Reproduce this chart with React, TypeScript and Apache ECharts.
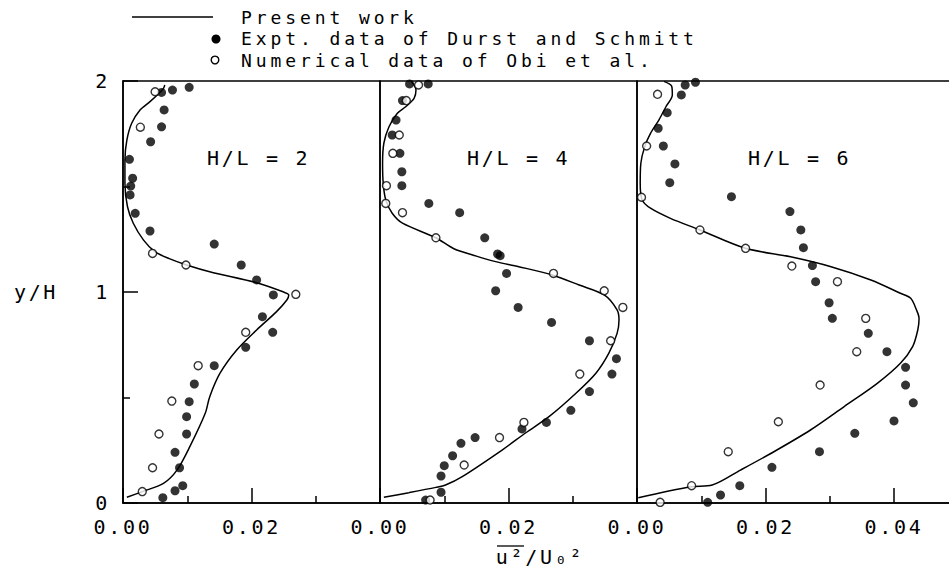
import React, { useEffect, useRef } from "react";
import * as echarts from "echarts";

// ---------- data (x = u'^2/U0^2, y = y/H) ----------
const panelLabels = ["H/L = 2", "H/L = 4", "H/L = 6"];
const legendLabels = [
  "Present work",
  "Expt. data of Durst and Schmitt",
  "Numerical data of Obi et al.",
];
const yTickLabels = ["0", "1", "2"];
const xTickLabels = ["0.00", "0.02", "0.04"];

const hl2Present = [
  [0.0006, 0.027], [0.003, 0.054], [0.0063, 0.093], [0.0084, 0.156], [0.0104, 0.267],
  [0.0128, 0.425], [0.0135, 0.504], [0.0151, 0.615], [0.0177, 0.725], [0.0208, 0.82],
  [0.0239, 0.907], [0.0255, 0.962], [0.0258, 0.986], [0.0249, 1.001], [0.0208, 1.044],
  [0.0135, 1.096], [0.0099, 1.128], [0.0072, 1.158], [0.005, 1.19], [0.0032, 1.246],
  [0.0016, 1.326], [0.0007, 1.404], [0.0003, 1.515], [0.0003, 1.626], [0.0006, 1.72],
  [0.00135, 1.8], [0.00265, 1.863], [0.0042, 1.902], [0.0055, 1.938], [0.0063, 1.965],
  [0.0065, 1.981],
];
const hl2Expt = [
  [0.0103, 1.97], [0.0077, 1.957], [0.006, 1.946], [0.0064, 1.863], [0.006, 1.783],
  [0.0043, 1.712], [0.001, 1.629], [0.0015, 1.539], [0.0012, 1.502], [0.0011, 1.46],
  [0.0019, 1.373], [0.0042, 1.289], [0.0142, 1.227], [0.0184, 1.128], [0.0208, 1.057],
  [0.0234, 0.986], [0.0217, 0.883], [0.0233, 0.809], [0.0191, 0.738], [0.0142, 0.651],
  [0.0111, 0.564], [0.0103, 0.48], [0.0099, 0.409], [0.0099, 0.327], [0.0081, 0.24],
  [0.0088, 0.167], [0.0093, 0.082], [0.0081, 0.058], [0.0062, 0.025],
];
const hl2Obi = [
  [0.005, 1.949], [0.0027, 1.781], [0.0046, 1.183], [0.0098, 1.128], [0.0269, 0.989],
  [0.0191, 0.809], [0.0117, 0.651], [0.0076, 0.483], [0.0056, 0.327], [0.0046, 0.167],
  [0.003, 0.054],
];

const hl4Present = [
  [0.0006, 0.027], [0.0045, 0.049], [0.0087, 0.074], [0.0102, 0.085], [0.0128, 0.125],
  [0.019, 0.251], [0.0227, 0.333], [0.0263, 0.409], [0.0305, 0.52], [0.0336, 0.615],
  [0.0356, 0.709], [0.0369, 0.804], [0.0372, 0.867], [0.0369, 0.915], [0.0349, 0.986],
  [0.031, 1.033], [0.0268, 1.081], [0.0216, 1.12], [0.018, 1.144], [0.015, 1.17],
  [0.0115, 1.205], [0.0087, 1.257], [0.0035, 1.326], [0.0019, 1.373], [0.0009, 1.436],
  [0.0005, 1.515], [0.0004, 1.61], [0.0006, 1.705], [0.0014, 1.783], [0.0027, 1.847],
  [0.004, 1.878], [0.0053, 1.918], [0.0056, 1.957], [0.0049, 1.997],
];
const hl4Expt = [
  [0.0075, 1.986], [0.0046, 1.986], [0.0035, 1.907], [0.0025, 1.815], [0.0019, 1.744],
  [0.0031, 1.657], [0.0034, 1.57], [0.0034, 1.504], [0.0076, 1.42], [0.0124, 1.376],
  [0.0163, 1.257], [0.0187, 1.172], [0.0183, 1.18], [0.0197, 1.088], [0.018, 1.006],
  [0.0215, 0.927], [0.0267, 0.856], [0.0326, 0.769], [0.0368, 0.684], [0.0361, 0.611],
  [0.0326, 0.528], [0.0297, 0.439], [0.0259, 0.382], [0.0221, 0.351], [0.0148, 0.31],
  [0.0126, 0.283], [0.0113, 0.224], [0.01, 0.177], [0.0095, 0.128], [0.0095, 0.051],
  [0.0071, 0.014],
];
const hl4Obi = [
  [0.006, 1.981], [0.0041, 1.907], [0.003, 1.744], [0.002, 1.657], [0.001, 1.504],
  [0.0009, 1.42], [0.0035, 1.376], [0.0087, 1.257], [0.027, 1.088], [0.0349, 1.006],
  [0.0378, 0.927], [0.0359, 0.769], [0.0311, 0.611], [0.0224, 0.382], [0.0186, 0.31],
  [0.0131, 0.18], [0.0078, 0.014],
];

const hl6Present = [
  [0.0002, 0.025], [0.0084, 0.077], [0.0117, 0.085], [0.0161, 0.156], [0.0213, 0.243],
  [0.027, 0.346], [0.0322, 0.456], [0.0374, 0.567], [0.041, 0.662], [0.0429, 0.741],
  [0.0437, 0.82], [0.0439, 0.875], [0.0435, 0.915], [0.0426, 0.97], [0.041, 0.994],
  [0.0364, 1.057], [0.0302, 1.12], [0.0239, 1.167], [0.0169, 1.207], [0.0098, 1.294],
  [0.0052, 1.349], [0.0021, 1.397], [0.0008, 1.436], [0.0005, 1.515], [0.0006, 1.61],
  [0.0012, 1.689], [0.0021, 1.752], [0.0034, 1.815], [0.0045, 1.878], [0.0055, 1.934],
  [0.0054, 1.975], [0.0042, 1.998],
];
const hl6Expt = [
  [0.0091, 1.994], [0.0075, 1.981], [0.0069, 1.934], [0.0047, 1.85], [0.0033, 1.776],
  [0.0041, 1.692], [0.0059, 1.607], [0.0051, 1.518], [0.0147, 1.452], [0.0238, 1.381],
  [0.0255, 1.294], [0.0259, 1.21], [0.0273, 1.125], [0.0278, 1.049], [0.0299, 0.949],
  [0.0304, 0.875], [0.036, 0.804], [0.0389, 0.717], [0.0418, 0.643], [0.0418, 0.559],
  [0.043, 0.475], [0.04, 0.389], [0.0339, 0.33], [0.0284, 0.243], [0.021, 0.169],
  [0.016, 0.082], [0.013, 0.038], [0.011, 0.003],
];
const hl6Obi = [
  [0.0032, 1.937], [0.0015, 1.692], [0.0007, 1.449], [0.0098, 1.294], [0.0169, 1.207],
  [0.0241, 1.123], [0.0312, 1.049], [0.0356, 0.875], [0.0342, 0.717], [0.0285, 0.559],
  [0.022, 0.385], [0.0142, 0.243], [0.0085, 0.082], [0.0036, 0.003],
];

const presentSets = [hl2Present, hl4Present, hl6Present];
const exptSets = [hl2Expt, hl4Expt, hl6Expt];
const obiSets = [hl2Obi, hl4Obi, hl6Obi];
const xMaxes = [0.04, 0.04, 0.06];

// ---------- layout / style ----------
const FONT_FAMILY = "DejaVu Sans Mono";
const FONT_SIZE = 20;
const LEGEND_FONT_SIZE = 18;
const GRID_TOP = 81;
const GRID_HEIGHT = 422;
const PX_PER_UNIT = 257 / 0.04;
const gridLefts = [123, 380, 637];
const labelPos = [
  [207, 158],
  [467, 158],
  [748, 158],
];
const legendRowsY = [17, 38.5, 60];
// the chart canvas is wider than the visible frame; the third panel runs past the right edge
const CANVAS_W = 1100;
const VIEW_W = 949;
const VIEW_H = 577;

const black = "#000";

export default function App() {
  const ref = useRef<HTMLDivElement>(null);

  useEffect(() => {
    document.body.style.margin = "0";
    if (!ref.current) return;
    const chart = echarts.init(ref.current, undefined, { renderer: "svg" });

    const axisLineStyle = { color: black, width: 1.5 };
    const labelStyle = {
      color: black,
      fontFamily: FONT_FAMILY,
      fontSize: FONT_SIZE,
    };

    const grids = gridLefts.map((left, i) => ({
      left,
      top: GRID_TOP,
      width: xMaxes[i] * PX_PER_UNIT,
      height: GRID_HEIGHT,
      show: true,
      borderColor: black,
      borderWidth: 1.5,
      backgroundColor: "transparent",
      containLabel: false,
    }));

    const xAxes = gridLefts.map((_, i) => ({
      type: "value",
      gridIndex: i,
      min: 0,
      max: xMaxes[i],
      interval: 0.02,
      axisLine: { show: true, onZero: false, lineStyle: axisLineStyle },
      axisTick: { show: true, inside: true, length: 15, lineStyle: axisLineStyle },
      minorTick: { show: true, splitNumber: 2, length: 7, lineStyle: axisLineStyle },
      splitLine: { show: false },
      axisLabel: {
        ...labelStyle,
        margin: 14,
        showMinLabel: true,
        showMaxLabel: false,
        formatter: (v: number) => {
          const s = v.toFixed(2);
          return xTickLabels.indexOf(s) >= 0 ? s : "";
        },
      },
    }));

    const yAxes = gridLefts.map((_, i) => ({
      type: "value",
      gridIndex: i,
      min: 0,
      max: 2,
      interval: 1,
      show: i === 0,
      axisLine: { show: true, onZero: false, lineStyle: axisLineStyle },
      axisTick: { show: true, inside: true, length: 15, lineStyle: axisLineStyle },
      minorTick: { show: true, splitNumber: 2, length: 7, lineStyle: axisLineStyle },
      splitLine: { show: false },
      axisLabel: {
        ...labelStyle,
        margin: 13,
        formatter: (v: number) => yTickLabels[Math.round(v)] ?? "",
      },
    }));

    const series: any[] = [];
    gridLefts.forEach((_, i) => {
      series.push({
        name: legendLabels[0],
        type: "line",
        xAxisIndex: i,
        yAxisIndex: i,
        data: presentSets[i],
        showSymbol: false,
        smooth: 0.3,
        lineStyle: { color: black, width: 1.5 },
        z: 2,
      });
      series.push({
        name: legendLabels[1],
        type: "scatter",
        xAxisIndex: i,
        yAxisIndex: i,
        data: exptSets[i],
        symbol: "circle",
        symbolSize: 9,
        itemStyle: { color: black },
        clip: false,
        z: 3,
      });
      series.push({
        name: legendLabels[2],
        type: "scatter",
        xAxisIndex: i,
        yAxisIndex: i,
        data: obiSets[i],
        symbol: "circle",
        symbolSize: 8,
        itemStyle: { color: "#fff", borderColor: black, borderWidth: 1.4 },
        clip: false,
        z: 4,
      });
    });

    const textStyle = (text: string, extra: any = {}) => ({
      text,
      fill: black,
      fontFamily: FONT_FAMILY,
      fontSize: FONT_SIZE,
      align: "left",
      textAlign: "left",
      verticalAlign: "middle",
      textVerticalAlign: "middle",
      ...extra,
    });

    const graphic: any[] = [
      // legend
      { type: "line", shape: { x1: 132, y1: 17, x2: 213, y2: 17 }, style: { stroke: black, lineWidth: 1.5 } },
      { type: "circle", shape: { cx: 216, cy: 39, r: 4.5 }, style: { fill: black } },
      { type: "circle", shape: { cx: 215, cy: 60, r: 3.8 }, style: { fill: "#fff", stroke: black, lineWidth: 1.4 } },
      ...legendLabels.map((t, i) => ({
        type: "text",
        x: 241,
        y: legendRowsY[i],
        style: textStyle(t, { fontSize: LEGEND_FONT_SIZE }),
      })),
      // panel annotations
      ...panelLabels.map((t, i) => ({
        type: "text",
        x: labelPos[i][0],
        y: labelPos[i][1],
        style: textStyle(t),
      })),
      // axis titles
      { type: "text", x: 36, y: 292, style: textStyle("y/H", { align: "center", textAlign: "center" }) },
      { type: "text", x: 540, y: 557, style: textStyle("u²/U₀²", { align: "center", textAlign: "center" }) },
      { type: "line", shape: { x1: 497, y1: 546, x2: 524, y2: 546 }, style: { stroke: black, lineWidth: 1.3 } },
    ];

    chart.setOption({
      animation: false,
      backgroundColor: "#fff",
      grid: grids,
      xAxis: xAxes,
      yAxis: yAxes,
      series,
      graphic,
    });

    return () => chart.dispose();
  }, []);

  return (
    <>
      <style>{`.plot svg text { letter-spacing: 2.7px; }
.plot svg text[style*="18px"] { letter-spacing: 3.9px; }`}</style>
      <div style={{ width: VIEW_W, height: VIEW_H, overflow: "hidden", background: "#fff" }}>
        <div
          className="plot"
          ref={ref}
          style={{ width: CANVAS_W, height: VIEW_H, background: "#fff" }}
        />
      </div>
    </>
  );
}
